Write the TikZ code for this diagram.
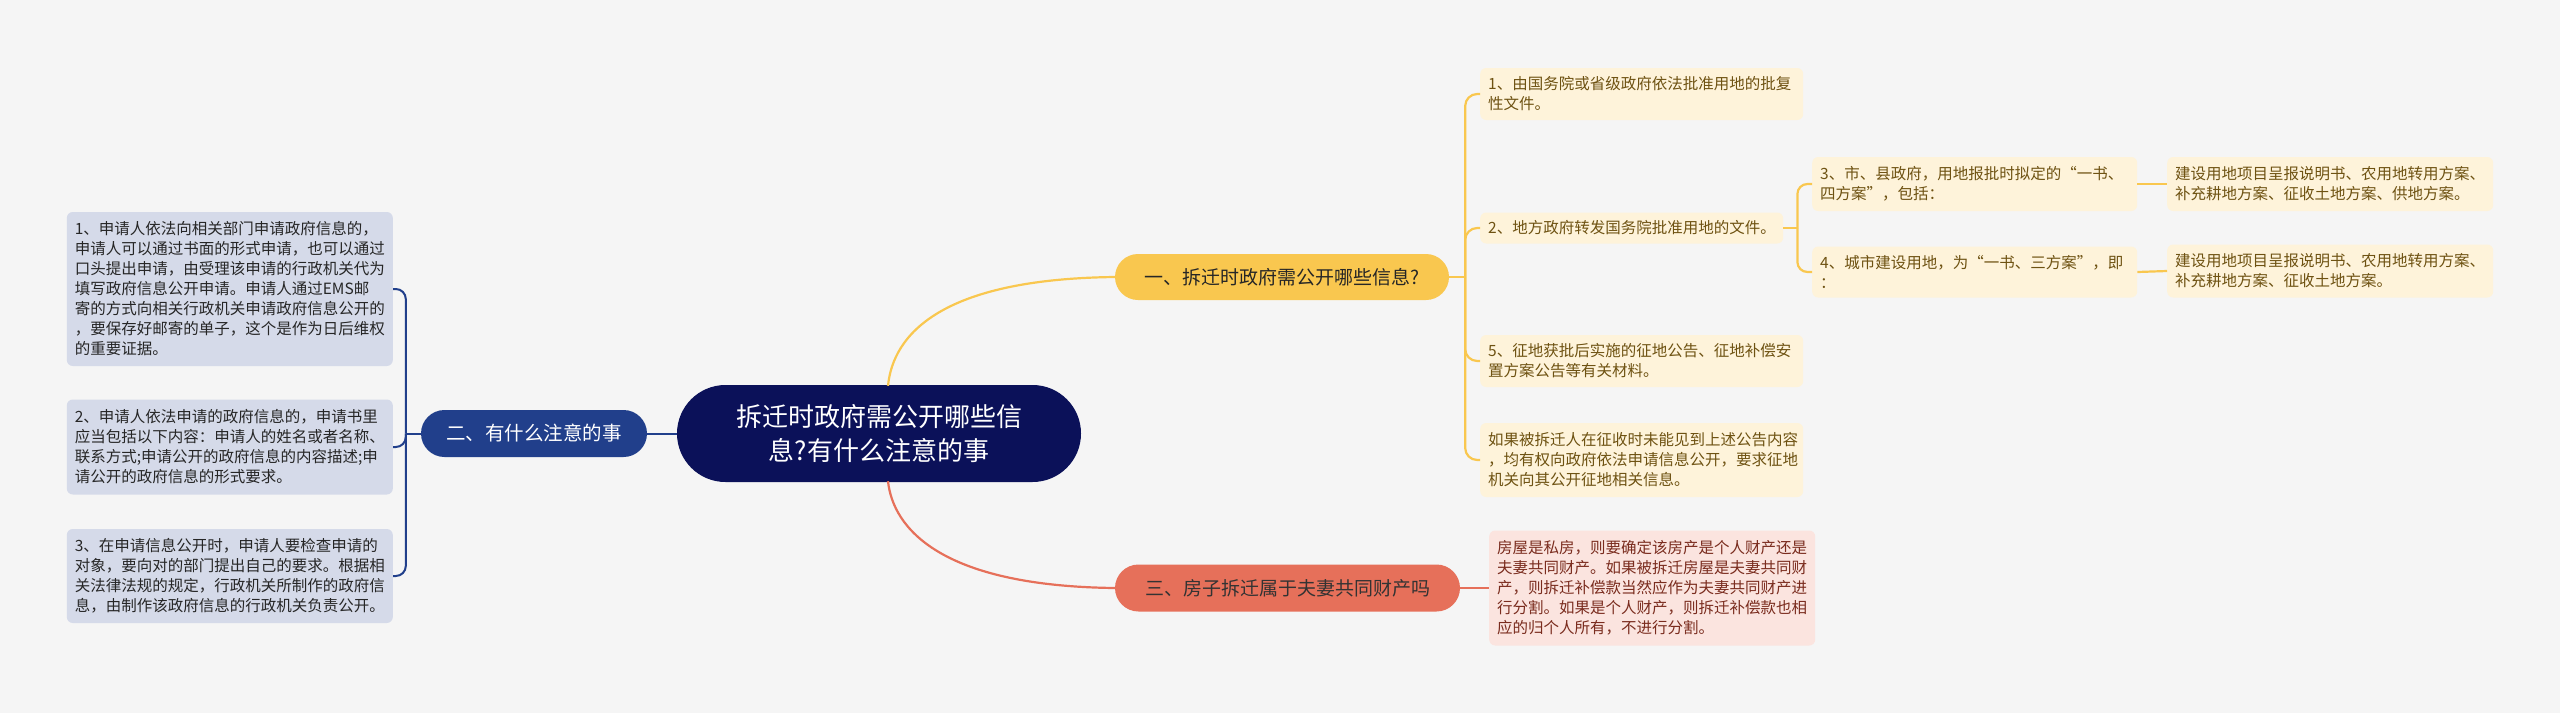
\documentclass[tikz,border=0pt]{standalone}
\usepackage{fontspec}
\setmainfont{Noto Sans CJK SC}
\usetikzlibrary{calc, positioning, shapes.misc}

\definecolor{bgc}{HTML}{F5F5F5}
\definecolor{rootc}{HTML}{0B1159}
\definecolor{navyc}{HTML}{213F8B}
\definecolor{lavc}{HTML}{D5DAE9}
\definecolor{goldc}{HTML}{F9C74F}
\definecolor{creamc}{HTML}{FEF3DA}
\definecolor{brownc}{HTML}{6E5212}
\definecolor{redc}{HTML}{E6705A}
\definecolor{pinkc}{HTML}{FBE4DF}
\definecolor{rusc}{HTML}{7A2C1E}

\begin{document}
\begin{tikzpicture}[x=1pt, y=-1pt,
  pill/.style={rounded rectangle, inner sep=0pt, align=center},
  leaf/.style={rounded corners=6pt, inner xsep=8pt, inner ysep=6pt, align=left,
    font=\fontsize{15.5}{20}\selectfont},
  navyleaf/.style={leaf, fill=lavc, text=black!85, anchor=east},
  goldleaf/.style={leaf, fill=creamc, text=brownc, anchor=west},
  redleaf/.style={leaf, fill=pinkc, text=rusc, anchor=west},
  navyline/.style={draw=navyc, line width=2pt},
  goldline/.style={draw=goldc, line width=2.2pt},
  redline/.style={draw=redc, line width=2.2pt}]

% Background and frame
\fill[bgc] (0,0) rectangle (2560,713);
\useasboundingbox (0,0) rectangle (2560,713);

% Centre topic
\node[pill, fill=rootc, text=white, minimum width=404, minimum height=97,
  font=\fontsize{26}{34}\selectfont] (root) at (879,433.5)
  {拆迁时政府需公开哪些信\\息?有什么注意的事};

% Main branches
\node[pill, fill=goldc, text=black!85, minimum width=334, minimum height=46,
  font=\fontsize{19}{22}\selectfont] (q1) at (1282,277) {一、拆迁时政府需公开哪些信息?};
\node[pill, fill=navyc, text=white, minimum width=226, minimum height=47,
  font=\fontsize{19.5}{22}\selectfont] (q2) at (534,433.5) {二、有什么注意的事};
\node[pill, fill=redc, text=black!80, minimum width=345, minimum height=47,
  font=\fontsize{19}{22}\selectfont] (q3) at (1287.5,588) {三、房子拆迁属于夫妻共同财产吗};

% Left leaves
\node[navyleaf, text width=310, minimum height=154] (l1) at (393,289)
  {1、申请人依法向相关部门申请政府信息的，\\申请人可以通过书面的形式申请，也可以通过\\口头提出申请，由受理该申请的行政机关代为\\填写政府信息公开申请。申请人通过EMS邮\\寄的方式向相关行政机关申请政府信息公开的\\，要保存好邮寄的单子，这个是作为日后维权\\的重要证据。};
\node[navyleaf, text width=310, minimum height=95] (l2) at (393,447)
  {2、申请人依法申请的政府信息的，申请书里\\应当包括以下内容：申请人的姓名或者名称、\\联系方式;申请公开的政府信息的内容描述;申\\请公开的政府信息的形式要求。};
\node[navyleaf, text width=310, minimum height=94] (l3) at (393,576)
  {3、在申请信息公开时，申请人要检查申请的\\对象，要向对的部门提出自己的要求。根据相\\关法律法规的规定，行政机关所制作的政府信\\息，由制作该政府信息的行政机关负责公开。};

% Right leaves, first branch
\node[goldleaf, text width=307, minimum height=52] (a) at (1480,94)
  {1、由国务院或省级政府依法批准用地的批复\\性文件。};
\node[goldleaf, text width=287, minimum height=31] (b) at (1480,228)
  {2、地方政府转发国务院批准用地的文件。};
\node[goldleaf, text width=307, minimum height=52] (c) at (1480,361)
  {5、征地获批后实施的征地公告、征地补偿安\\置方案公告等有关材料。};
\node[goldleaf, text width=307, minimum height=74] (d) at (1480,460)
  {如果被拆迁人在征收时未能见到上述公告内容\\，均有权向政府依法申请信息公开，要求征地\\机关向其公开征地相关信息。};
\node[goldleaf, text width=309, minimum height=54] (e) at (1812,184)
  {3、市、县政府，用地报批时拟定的“一书、\\四方案”，包括：};
\node[goldleaf, text width=309, minimum height=51] (f) at (1812,272)
  {4、城市建设用地，为“一书、三方案”，即\\：};
\node[goldleaf, text width=310, minimum height=54] (g) at (2167,184)
  {建设用地项目呈报说明书、农用地转用方案、\\补充耕地方案、征收土地方案、供地方案。};
\node[goldleaf, text width=310, minimum height=53] (h) at (2167,271)
  {建设用地项目呈报说明书、农用地转用方案、\\补充耕地方案、征收土地方案。};

% Right leaf, third branch
\node[redleaf, text width=310, minimum height=115] (r1) at (1489,588)
  {房屋是私房，则要确定该房产是个人财产还是\\夫妻共同财产。如果被拆迁房屋是夫妻共同财\\产，则拆迁补偿款当然应作为夫妻共同财产进\\行分割。如果是个人财产，则拆迁补偿款也相\\应的归个人所有，不进行分割。};

% Connectors from the centre
\draw[goldline] ($(root.north)+(9,1)$) .. controls (893,335) and (940,279) .. (q1.west);
\draw[redline] ($(root.south)+(9,-1)$) .. controls (893,528) and (940,586) .. (q3.west);
\draw[navyline] (root.west) -- (q2.east);

% Brackets
\coordinate (lj) at ($(q2.west)+(-15,0)$);
\draw[navyline] (q2.west) -- (lj);
\foreach \b in {l1,l2,l3}
  \draw[navyline, rounded corners=10pt] (lj) |- (\b.east);

\coordinate (gj) at ($(q1.east)+(16,0)$);
\draw[goldline] (q1.east) -- (gj);
\foreach \b in {a,b,c,d}
  \draw[goldline, rounded corners=12pt] (gj) |- (\b.west);

\coordinate (bj) at ($(b.east)+(14,0)$);
\draw[goldline] (b.east) -- (bj);
\foreach \b in {e,f}
  \draw[goldline, rounded corners=10pt] (bj) |- (\b.west);

\draw[goldline] (e.east) -- (g.west);
\draw[goldline] (f.east) -- (h.west);
\draw[redline] (q3.east) -- (r1.west);

\end{tikzpicture}
\end{document}
